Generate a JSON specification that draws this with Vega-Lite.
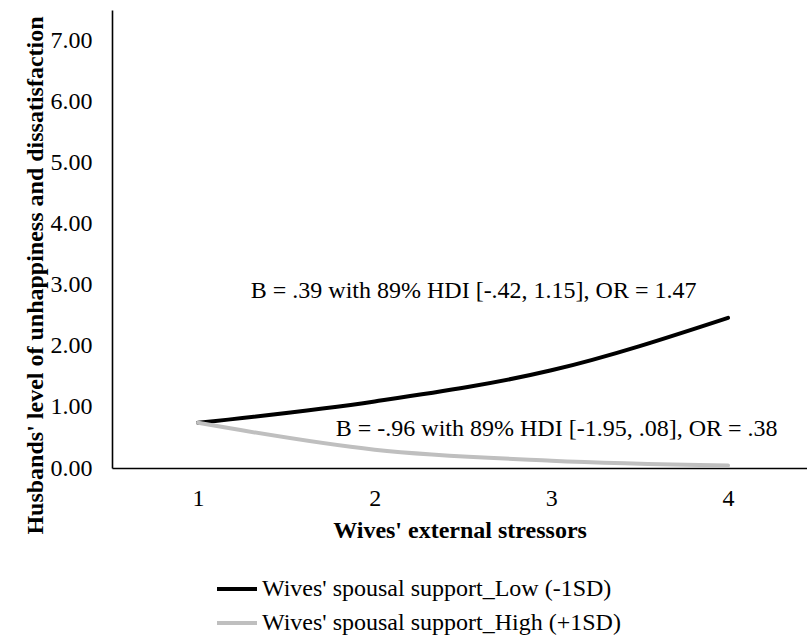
{
  "$schema": "https://vega.github.io/schema/vega-lite/v6.json",
  "width": 695,
  "height": 458,
  "autosize": "none",
  "padding": {"left": 112, "top": 10, "right": 0, "bottom": 171},
  "background": "white",
  "config": {
    "view": {"stroke": null},
    "font": "Liberation Serif",
    "axis": {"labelFont": "Liberation Serif", "titleFont": "Liberation Serif", "labelColor": "black", "titleColor": "black", "domainColor": "black", "domainWidth": 1.6, "ticks": false, "grid": false}
  },
  "datasets": {
    "lines": [
      {"stress": 1, "value": 0.74, "group": "Wives' spousal support_Low (-1SD)"},
      {"stress": 2, "value": 1.09, "group": "Wives' spousal support_Low (-1SD)"},
      {"stress": 3, "value": 1.6, "group": "Wives' spousal support_Low (-1SD)"},
      {"stress": 4, "value": 2.46, "group": "Wives' spousal support_Low (-1SD)"},
      {"stress": 1, "value": 0.74, "group": "Wives' spousal support_High (+1SD)"},
      {"stress": 2, "value": 0.3, "group": "Wives' spousal support_High (+1SD)"},
      {"stress": 3, "value": 0.12, "group": "Wives' spousal support_High (+1SD)"},
      {"stress": 4, "value": 0.04, "group": "Wives' spousal support_High (+1SD)"}
    ],
    "notes": [
      {"x": 2.56, "y": 2.9, "label": "B = .39 with 89% HDI [-.42, 1.15], OR = 1.47"},
      {"x": 3.03, "y": 0.64, "label": "B = -.96 with 89% HDI [-1.95, .08], OR = .38"}
    ]
  },
  "layer": [
    {
      "data": {"name": "lines"},
      "mark": {"type": "line", "interpolate": "monotone", "strokeWidth": 4, "strokeCap": "round"},
      "encoding": {
        "x": {"field": "stress", "type": "quantitative", "scale": {"domain": [0.513, 4.447], "nice": false, "zero": false},
              "axis": {"values": [1, 2, 3, 4], "format": "d", "title": "Wives' external stressors", "labelFontSize": 24, "titleFontSize": 24, "titleFontWeight": "bold", "labelPadding": 18, "titlePadding": 8}},
        "y": {"field": "value", "type": "quantitative", "scale": {"domain": [0, 7.5], "nice": false},
              "axis": {"values": [0, 1, 2, 3, 4, 5, 6, 7], "format": ".2f", "title": "Husbands' level of unhappiness and dissatisfaction", "labelFontSize": 24, "titleFontSize": 24, "titleFontWeight": "bold", "labelPadding": 20, "titleX": -70, "titleY": 265, "titleBaseline": "alphabetic", "titleAngle": -90}},
        "color": {"field": "group", "type": "nominal",
                  "scale": {"domain": ["Wives' spousal support_Low (-1SD)", "Wives' spousal support_High (+1SD)"], "range": ["#000000", "#bfbfbf"]},
                  "legend": {"title": null, "orient": "none", "legendX": 103, "legendY": 557, "direction": "vertical", "symbolType": "stroke", "symbolStrokeWidth": 4, "symbolSize": 1600, "labelFontSize": 24, "labelFont": "Liberation Serif", "labelColor": "black", "labelLimit": 0, "rowPadding": -4, "labelOffset": 3}}
      }
    },
    {
      "data": {"name": "notes"},
      "mark": {"type": "text", "fontSize": 24, "font": "Liberation Serif", "color": "black", "align": "center", "baseline": "middle"},
      "encoding": {
        "x": {"field": "x", "type": "quantitative"},
        "y": {"field": "y", "type": "quantitative"},
        "text": {"field": "label"}
      }
    }
  ]
}
